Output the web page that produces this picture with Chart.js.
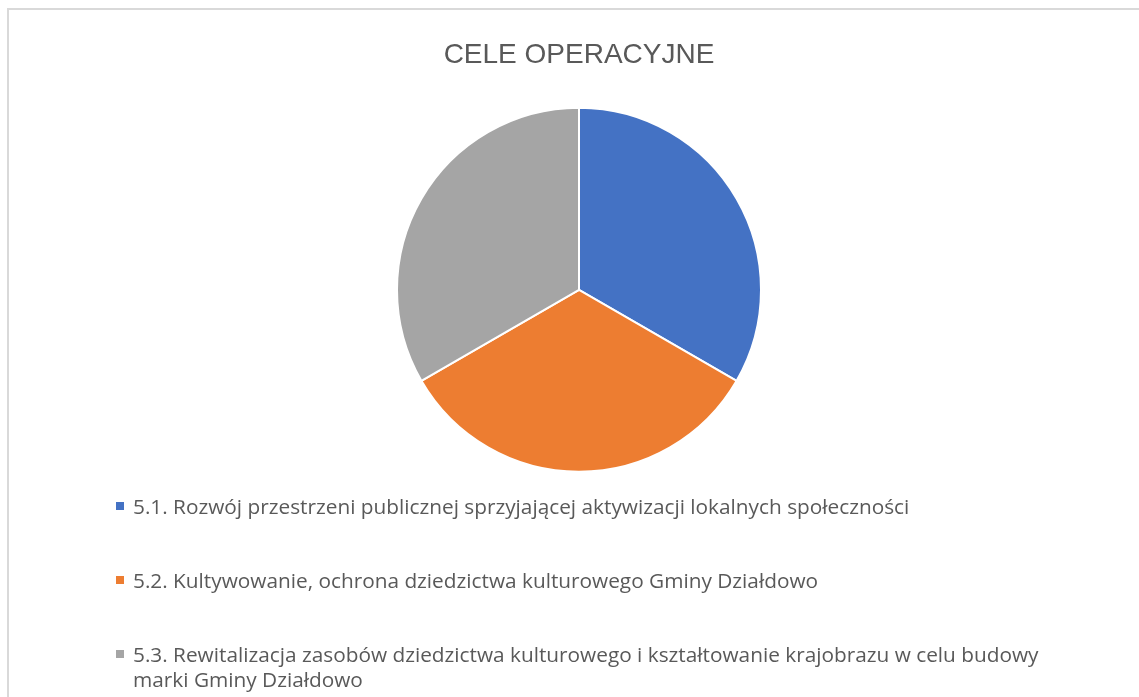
<!DOCTYPE html>
<html>
<head>
<meta charset="utf-8">
<script src="https://cdn.jsdelivr.net/npm/chart.js@4.4.1/dist/chart.umd.min.js"></script>
<style>
    html, body {
        margin: 0;
        padding: 0;
        width: 1139px;
        height: 697px;
        overflow: hidden;
        background: #ffffff;
    }
    #frame {
        position: absolute;
        left: 7px;
        top: 8px;
        width: 1200px;
        height: 800px;
        border: 2px solid #d9d9d9;
    }
    #wrap {
        position: absolute;
        left: 0;
        top: 0;
        width: 1139px;
        height: 697px;
    }
    #legend {
        position: absolute;
        left: 116px;
        top: 494px;
        font-family: 'Open Sans', sans-serif;
        font-size: 20.8px;
        color: #595959;
        line-height: 25px;
    }
    .item {
        position: relative;
        padding-left: 17px;
        margin-bottom: 49px;
        white-space: nowrap;
    }
    .box {
        position: absolute;
        left: 0;
        top: 8px;
        width: 8px;
        height: 8px;
    }
</style>
</head>
<body>
<div id="frame"></div>
<div id="wrap"><canvas id="pieChart"></canvas></div>
<div id="legend"></div>

<script>
const chartTitle = 'CELE OPERACYJNE';
const categories = [
    '5.1. Rozwój przestrzeni publicznej sprzyjającej aktywizacji lokalnych społeczności',
    '5.2. Kultywowanie, ochrona dziedzictwa kulturowego Gminy Działdowo',
    ['5.3. Rewitalizacja zasobów dziedzictwa kulturowego i kształtowanie krajobrazu w celu budowy', 'marki Gminy Działdowo']
];
const values = [1, 1, 1];
const sliceColors = ['#4472c4', '#ed7d31', '#a5a5a5'];

let pieChart = null;

document.addEventListener('DOMContentLoaded', function() {
    const ctx = document.getElementById('pieChart').getContext('2d');

    pieChart = new Chart(ctx, {
        type: 'pie',
        data: {
            labels: categories,
            datasets: [{
                data: values,
                backgroundColor: sliceColors,
                borderColor: '#ffffff',
                borderWidth: 2
            }]
        },
        options: {
            responsive: true,
            maintainAspectRatio: false,
            animation: false,
            radius: 182,
            layout: {
                padding: { left: 398, right: 379, top: 38, bottom: 226 }
            },
            plugins: {
                legend: { display: false },
                tooltip: { enabled: false },
                title: {
                    display: true,
                    text: chartTitle,
                    color: '#595959',
                    font: { family: "'Liberation Sans', Arial, sans-serif", size: 28, weight: 'normal', lineHeight: 1.2 },
                    padding: { top: 0, bottom: 37 }
                }
            }
        }
    });

    buildLegend(pieChart);
});

// legend drawn as html so the long labels can break like the original
function buildLegend(chart) {
    const legend = document.getElementById('legend');
    const ds = chart.data.datasets[0];
    chart.data.labels.forEach((label, i) => {
        const item = document.createElement('div');
        item.className = 'item';
        const box = document.createElement('span');
        box.className = 'box';
        box.style.backgroundColor = ds.backgroundColor[i];
        item.appendChild(box);
        const lines = Array.isArray(label) ? label : [label];
        lines.forEach((line, j) => {
            if (j > 0) item.appendChild(document.createElement('br'));
            item.appendChild(document.createTextNode(line));
        });
        legend.appendChild(item);
    });
}
</script>
</body>
</html>
